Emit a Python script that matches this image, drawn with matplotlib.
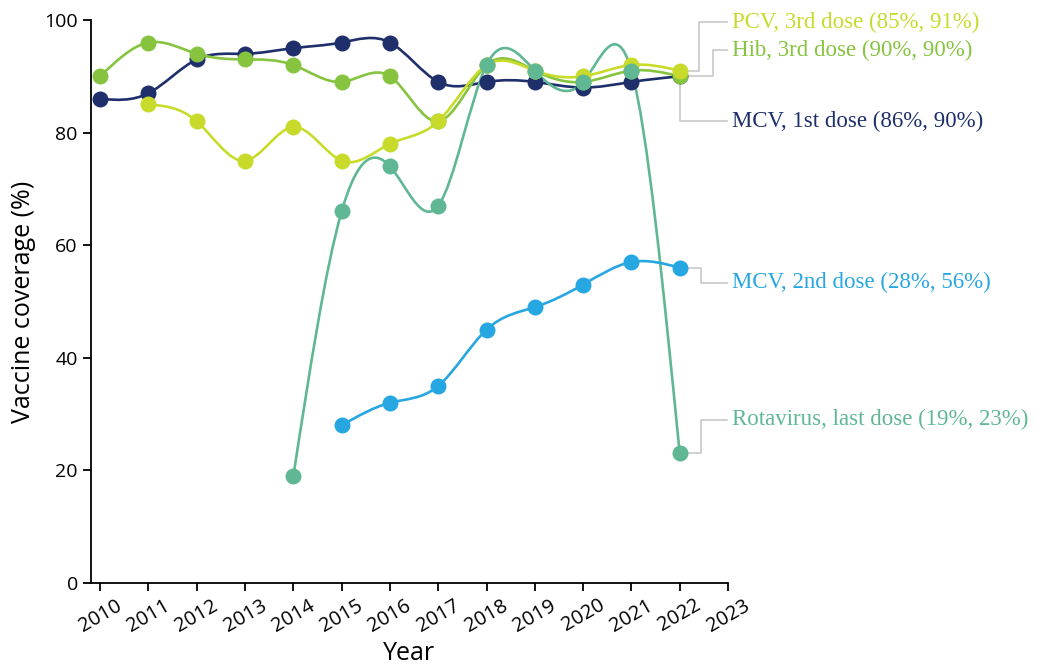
import numpy as np
import matplotlib.pyplot as plt
from matplotlib.path import Path
from matplotlib.patches import PathPatch

years = list(range(2010, 2023))

mcv1 = [86, 87, 93, 94, 95, 96, 96, 89, 89, 89, 88, 89, 90]
hib3 = [90, 96, 94, 93, 92, 89, 90, 82, 92, 91, 89, 91, 90]
pcv3 = [None, 85, 82, 75, 81, 75, 78, 82, 92, 91, 90, 92, 91]
rota = [None, None, None, None, 19, 66, 74, 67, 92, 91, 89, 91, 23]
mcv2 = [None, None, None, None, None, 28, 32, 35, 45, 49, 53, 57, 56]

labels = ["MCV, 1st dose (86%, 90%)", "Hib, 3rd dose (90%, 90%)",
          "PCV, 3rd dose (85%, 91%)", "Rotavirus, last dose (19%, 23%)",
          "MCV, 2nd dose (28%, 56%)"]
colors = ["#1e2f6c", "#86c440", "#c8db2a", "#5fb893", "#27a7e1"]
# y position of each label (data units) and x of the connector elbow
label_y = [82.0, 94.6, 99.6, 29.0, 53.3]
elbow_x = [2022.0, 2022.68, 2022.4, 2022.45, 2022.45]


def natural_path(x, y):
    # natural cubic spline through the points, drawn as bezier segments
    x = np.asarray(x, float)
    y = np.asarray(y, float)
    n = len(x)
    h = np.diff(x)
    M = np.zeros(n)
    if n > 2:
        A = np.zeros((n - 2, n - 2))
        b = np.zeros(n - 2)
        for i in range(1, n - 1):
            A[i - 1, i - 1] = 2 * (h[i - 1] + h[i])
            if i > 1:
                A[i - 1, i - 2] = h[i - 1]
            if i < n - 2:
                A[i - 1, i] = h[i]
            b[i - 1] = 6 * ((y[i + 1] - y[i]) / h[i] - (y[i] - y[i - 1]) / h[i - 1])
        M[1:-1] = np.linalg.solve(A, b)
    verts = [(x[0], y[0])]
    codes = [Path.MOVETO]
    for i in range(n - 1):
        d = (y[i + 1] - y[i]) / h[i]
        s0 = d - h[i] * (2 * M[i] + M[i + 1]) / 6
        s1 = d + h[i] * (M[i] + 2 * M[i + 1]) / 6
        verts += [(x[i] + h[i] / 3, y[i] + s0 * h[i] / 3),
                  (x[i + 1] - h[i] / 3, y[i + 1] - s1 * h[i] / 3),
                  (x[i + 1], y[i + 1])]
        codes += [Path.CURVE4] * 3
    return Path(verts, codes)


fig = plt.figure(figsize=(10.4, 6.69), dpi=100)
ax = fig.add_axes([0.0875, 0.1286, 0.6125, 0.8415])

series = [mcv1, hib3, pcv3, rota, mcv2]
for vals, col, lab, ly, ex in zip(series, colors, labels, label_y, elbow_x):
    xs = [yr for yr, v in zip(years, vals) if v is not None]
    ys = [v for v in vals if v is not None]
    ax.add_patch(PathPatch(natural_path(xs, ys), facecolor="none", edgecolor=col, lw=1.9))
    ax.plot(xs, ys, "o", color=col, ms=11.5, mec="none")
    # connector from last point to the label
    ax.plot([xs[-1], ex, ex, 2022.97], [ys[-1], ys[-1], ly, ly],
            color="#c8c8c8", lw=1.2, clip_on=False, zorder=0)
    ax.text(2023.08, ly, lab, color=col, fontsize=16.5, family="Liberation Serif",
            va="center", ha="left", clip_on=False)

ax.set_xlim(2009.81, 2023)
ax.set_ylim(0, 100)
ax.set_xticks(range(2010, 2024))
ax.set_yticks(range(0, 101, 20))
ax.spines["top"].set_visible(False)
ax.spines["right"].set_visible(False)
for s in ["left", "bottom"]:
    ax.spines[s].set_linewidth(1.3)
ax.tick_params(length=6, width=1.3, labelsize=14)
ax.tick_params(axis="x", labelsize=14.5, pad=3)
for t in ax.get_xticklabels():
    t.set_rotation(30)
    t.set_ha("center")
    t.set_family("Open Sans")
for t in ax.get_yticklabels():
    t.set_family("Open Sans")

ax.set_xlabel("Year", fontsize=18, family="Open Sans", labelpad=4)
ax.set_ylabel("Vaccine coverage (%)", fontsize=18, family="Open Sans", labelpad=6)

fig.savefig("out.png", dpi=100)
